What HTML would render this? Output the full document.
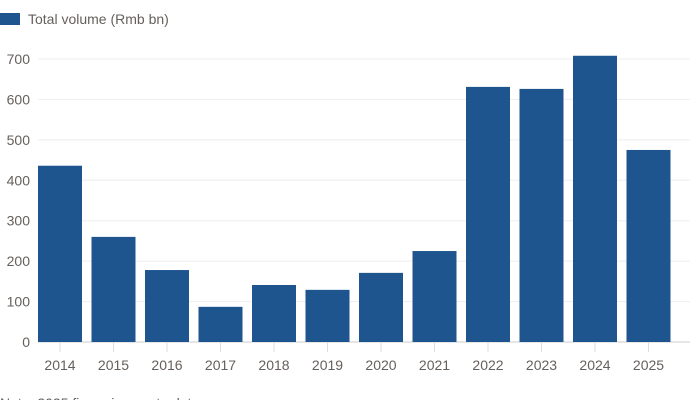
<!DOCTYPE html>
<html><head><meta charset="utf-8"><style>
body{margin:0;background:#fff;width:690px;height:400px;overflow:hidden;font-family:"Liberation Sans",sans-serif}
</style></head><body>
<svg width="690" height="400" font-family="Liberation Sans, sans-serif">
<rect x="0" y="13" width="20" height="12" fill="#1f558e"/>
<text x="28" y="24" font-size="14" fill="#66605c">Total volume (Rmb bn)</text>
<g id="grid"></g><g id="bars"></g><g id="xaxis"></g>
<text x="0" y="408" font-size="14" fill="#66605c">Note: 2025 figure is year to date</text>
</svg>
<script>
const categories=["2014","2015","2016","2017","2018","2019","2020","2021","2022","2023","2024","2025"];
const values=[436,260,178,87,141,129,171,225,631,626,708,475];
const yTicks=[0,100,200,300,400,500,600,700];
const NS="http://www.w3.org/2000/svg";
const y=v=>342-v*0.4043;
const x=i=>60+i*53.5;
const bw=44;
function mk(t,a,p){const e=document.createElementNS(NS,t);for(const k in a)e.setAttribute(k,a[k]);p.appendChild(e);return e;}
const g=document.getElementById('grid'),b=document.getElementById('bars'),xa=document.getElementById('xaxis');
yTicks.forEach(t=>{
 const l=mk('line',{x1:38,x2:690,y1:y(t),y2:y(t),stroke:t===0?'#ccc':'#eee','stroke-width':1},g);
 
 
 const tx=mk('text',{x:30,y:y(t)+5,'text-anchor':'end','font-size':14,fill:'#66605c'},g);
 tx.textContent=t;
 
 
});
categories.forEach((c,i)=>{
 const r=mk('rect',{x:x(i)-bw/2,y:y(values[i]),width:bw,height:y(0)-y(values[i]),fill:'#1f558e'},b);
 
 
 const tk=mk('line',{x1:x(i),x2:x(i),y1:342,y2:352,stroke:'#ddd'},xa);
 
 
 const tx=mk('text',{x:x(i),y:370,'text-anchor':'middle','font-size':14,fill:'#66605c'},xa);
 tx.textContent=c;
 
 
});
</script>
</body></html>
